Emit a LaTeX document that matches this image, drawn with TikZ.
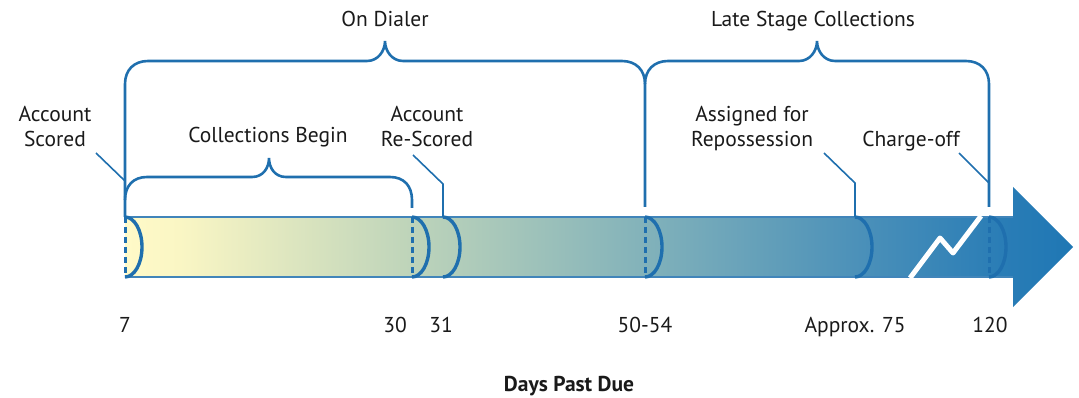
\documentclass[tikz,border=0pt]{standalone}
\usepackage{fontspec}
\setmainfont{PT Sans}
\definecolor{lb}{RGB}{31,111,174}
\definecolor{txt}{RGB}{26,26,26}
\definecolor{c0}{RGB}{255,250,200}
\definecolor{c1}{RGB}{250,246,196}
\definecolor{c2}{RGB}{190,212,186}
\definecolor{c3}{RGB}{130,178,186}
\definecolor{c4}{RGB}{76,145,185}
\definecolor{c5}{RGB}{42,125,182}
\definecolor{c6}{RGB}{31,119,180}
\pgfdeclarehorizontalshading{barshade}{100bp}{color(0bp)=(c0); color(25bp)=(c0); color(27.9bp)=(c1); color(40bp)=(c2); color(52.4bp)=(c3); color(63.5bp)=(c4); color(71.2bp)=(c5); color(75bp)=(c6); color(100bp)=(c6)}
\begin{document}
\begin{tikzpicture}[x=1pt,y=-1pt,
  lbl/.style={inner sep=0pt, text=txt, font=\fontsize{21.5}{25}\selectfont},
  twoline/.style={lbl, align=center, anchor=south, text depth=0pt},
  brace/.style={lb, line width=2.6pt, line cap=butt},
  leader/.style={lb, line width=1.6pt},
  edge/.style={lb!85, line width=1.6pt},
  cut/.style={lb, line width=3pt, dash pattern=on 6pt off 4pt},
  ring/.style={lb, line width=3.4pt},
  halfring/.pic={\draw[ring] (0,0) .. controls (9.4,0) and (17,13.4) .. (17,30) .. controls (17,46.6) and (9.4,60) .. (0,60);}
]
\useasboundingbox (0,0) rectangle (1079,398);

% positions along the bar
\coordinate (p7) at (125,217);
\coordinate (p30) at (412,217);
\coordinate (p31) at (443,217);
\coordinate (p50) at (645,217);
\coordinate (p75) at (855,217);
\coordinate (p120) at (989,217);

% bar with arrow head
\shade[shading=barshade] (125,217) -- (1013,217) -- (1013,187) -- (1073,247) -- (1013,307) -- (1013,277) -- (125,277) -- cycle;
\draw[edge] (125,217) -- (1013,217);
\draw[edge] (125,277) -- (1013,277);

% rings
\foreach \x in {125,412,645,989} \draw[cut] (\x,217) -- (\x,277);
\foreach \x in {125,412,443,645,855,989} \pic at (\x,217) {halfring};

% break
\draw[white, line width=5pt, line join=round] (910,278) -- (940,238) -- (953,253) -- (981,216);

% braces
\draw[brace] (p7) -- (125,84) .. controls (125,70) and (134,61) .. (148,61) -- (367,61)
  .. controls (378,61) and (385,51) .. (385,41) .. controls (385,51) and (392,61) .. (403,61)
  -- (622,61) .. controls (636,61) and (645,70) .. (645,84);
\draw[brace] (645,207) -- (645,84) .. controls (645,70) and (654,61) .. (668,61) -- (799,61)
  .. controls (810,61) and (817,51) .. (817,41) .. controls (817,51) and (824,61) .. (835,61)
  -- (966,61) .. controls (980,61) and (989,70) .. (989,84) -- (989,207);
\draw[brace] (125,200) .. controls (125,186) and (133,177) .. (147,177) -- (252,177)
  .. controls (263,177) and (269,168) .. (269,158) .. controls (269,168) and (275,177) .. (286,177)
  -- (390,177) .. controls (404,177) and (412,186) .. (412,200) -- (412,208);

% labels
\node[lbl, anchor=base] (ondialer) at (385,27) {On Dialer};
\node[lbl, anchor=base] (late) at (813,27) {Late Stage Collections};
\node[twoline] (scored) at (55,147) {Account\\Scored};
\node[lbl, anchor=base] (begin) at (268,143) {Collections Begin};
\node[twoline] (rescored) at (427,147) {Account\\Re-Scored};
\node[twoline] (repo) at (752,147) {Assigned for\\Repossession};
\node[lbl, anchor=base] (chargeoff) at (911,147) {Charge-off};

% leaders
\coordinate (s1) at (96,153);
\coordinate (s2) at (413,155);
\coordinate (s3) at (824,153);
\coordinate (s4) at (959,153);
\draw[leader] (s1) -- (125,181);
\draw[leader] (s2) -- (443,184) -- (p31);
\draw[leader] (s3) -- (855,183) -- (p75);
\draw[leader] (s4) -- (989,183);

% day numbers
\node[lbl, anchor=base] (d7) at (125,332) {7};
\node[lbl, anchor=base] (d30) at (395,332) {30};
\node[lbl, anchor=base] (d31) at (441,332) {31};
\node[lbl, anchor=base] (d50) at (645,332) {50-54};
\node[lbl, anchor=base] (d75) at (855,332) {Approx. 75};
\node[lbl, anchor=base] (d120) at (990,332) {120};
\node[lbl, anchor=base, font=\fontsize{21.5}{25}\selectfont\bfseries] (axis) at (569,391) {Days Past Due};
\end{tikzpicture}
\end{document}
